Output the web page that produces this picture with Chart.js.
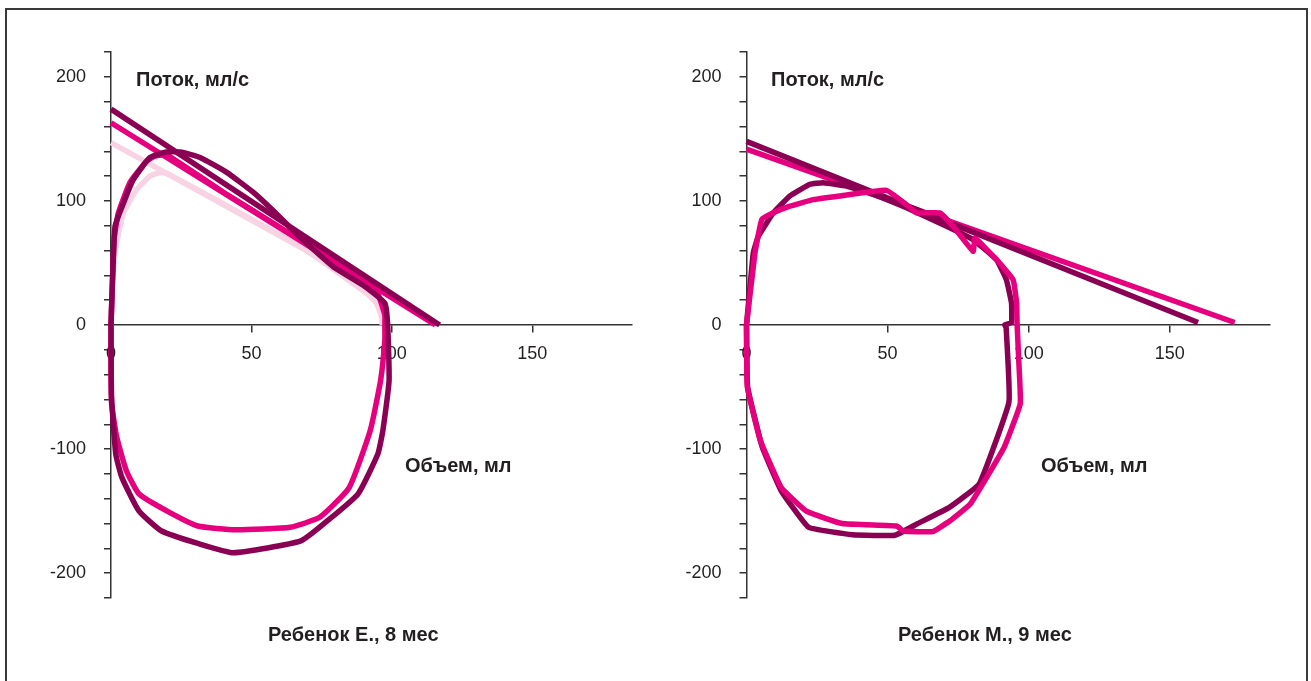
<!DOCTYPE html>
<html>
<head>
<meta charset="utf-8">
<script src="https://cdn.jsdelivr.net/npm/chart.js@4.4.1/dist/chart.umd.min.js"></script>
<style>
    body { margin: 0; background: #fff; font-family: "Liberation Sans", Arial, sans-serif; }
    #frame { position: absolute; left: 5px; top: 8px; width: 1299px; height: 700px; border: 2px solid #3a3a3a; border-bottom: none; }
    .wrap { position: absolute; top: 0; }
    canvas { display: block; }
    .lbl { position: absolute; font-weight: bold; font-size: 20px; line-height: 22px; color: #231f20; white-space: nowrap; }
</style>
</head>
<body>
<div id="frame"></div>
<div class="wrap" style="left:0"><canvas id="chartE" width="655" height="681"></canvas></div>
<div class="wrap" style="left:655px"><canvas id="chartM" width="656" height="681"></canvas></div>

<div class="lbl" style="left:136px;top:68px">Поток, мл/с</div>
<div class="lbl" style="left:405px;top:454px">Объем, мл</div>
<div class="lbl" style="left:268px;top:623px">Ребенок Е., 8 мес</div>
<div class="lbl" style="left:771px;top:68px">Поток, мл/с</div>
<div class="lbl" style="left:1041px;top:454px">Объем, мл</div>
<div class="lbl" style="left:898px;top:623px">Ребенок М., 9 мес</div>

<script>
// Ребенок Е., 8 мес — объем (мл) и поток (мл/с)
var eDarkLoopV = [0, 1.4, 4.4, 7.9, 13.9, 19.8, 24.6, 31.7, 41.2, 50.6, 57.8, 64.9, 72, 79.1, 89.8, 97.5, 98.5, 99, 96.8, 95, 88, 78, 67.6, 43.6, 30.9, 18, 10, 3.9, 1.7, 0.2, 0];
var eDarkLoopF = [0, 79, 98, 117, 135, 139.5, 139.5, 135, 123, 107, 92, 76, 61, 47, 32, 17.5, 0, -45, -85, -104, -136, -156, -174, -183.5, -176, -166, -150, -123, -104, -58, 0];
var eMagLoopV = [0, 1.1, 2.6, 6.8, 12.7, 15.7, 19.8, 40, 60, 80, 90, 95, 97.5, 97.5, 97.5, 96, 92.3, 84.8, 74.3, 63.8, 44.4, 30.9, 20, 9.9, 5.4, 2, 0.2, 0, 0];
var eMagLoopF = [0, 69, 90, 115, 132, 136, 137, 107, 79, 51, 36, 25, 8, 0, -12, -44.5, -85, -131, -155, -163, -165, -162, -150, -136, -117, -90, -63, -35, 0];
var ePinkLoopV = [0, 0.5, 1.5, 4.4, 9.1, 13.9, 17.4, 19.8, 67.3, 91, 94.5, 96.3, 96.6];
var ePinkLoopF = [0, 30, 60, 90, 109, 120, 122.8, 122.3, 63.4, 25.6, 17.5, 6.7, 0];
var eDarkLineV = [0, 117];
var eDarkLineF = [174, 0];
var eMagLineV = [0, 115.5];
var eMagLineF = [163, 0];
var ePinkLineV = [0, 97];
var ePinkLineF = [147, 25.7];

// Ребенок М., 9 мес
var mDarkLoopV = [0, 2.4, 4.2, 9.5, 15.4, 22.5, 27.2, 35.5, 44.9, 56.7, 70.9, 80.3, 88.6, 92.1, 93.9, 93.9, 91.5, 92, 93, 82.5, 71.9, 60.7, 52.6, 37.6, 22, 12.3, 5.6, 0.4, 0];
var mDarkLoopF = [0, 58, 71.5, 90.4, 104, 113.4, 114.7, 112, 105.3, 94.5, 79.6, 68.8, 52.6, 36.4, 17.8, 2, 0, -2, -62, -128, -147, -160, -169.5, -169, -163, -133.6, -98.5, -50, 0];
var mMagLoopV = [0, 3, 5.4, 9.5, 15.4, 23.7, 33, 49.6, 56.7, 60.3, 68.5, 73.2, 80.3, 81, 88.6, 94.5, 95.7, 95.9, 96.5, 97, 91.3, 79.4, 72, 66, 55.5, 53.3, 33.9, 21.2, 12.3, 4.9, 0.3, 0];
var mMagLoopF = [0, 58, 85, 90.4, 95.8, 101, 104, 108.5, 97, 90.4, 90.4, 79.6, 59.4, 70, 52.6, 36.4, 17.8, 0, -30, -63.4, -98.5, -144, -158, -166.5, -166, -162, -160, -150, -131, -93, -50, 0];
var mDarkLineV = [0, 160];
var mDarkLineF = [148, 2];
var mMagLineV = [0, 173];
var mMagLineF = [141.7, 2];

var xTicksStep = 50;
var yTicksStep = 20;

var DARK = '#8a0052';
var MAGENTA = '#e6007e';
var PINK = '#f7d3e3';

function pts(vs, fs) {
    return vs.map(function(v, i) { return { x: v, y: fs[i] }; });
}

function series(vs, fs, color, tension) {
    return {
        data: pts(vs, fs),
        showLine: true,
        borderColor: color,
        backgroundColor: color,
        borderWidth: 5.5,
        pointRadius: 0,
        tension: tension || 0,
        fill: false,
        clip: false
    };
}

var tickFont = { family: '"Liberation Sans", Arial, sans-serif', size: 18 };

function makeChart(id, axisLeft, padRight, datasets) {
    var ctx = document.getElementById(id).getContext('2d');
    return new Chart(ctx, {
        type: 'scatter',
        data: { datasets: datasets },
        options: {
            responsive: false,
            animation: false,
            layout: { padding: { left: 0, right: padRight, top: 52, bottom: 83 } },
            plugins: { legend: { display: false }, tooltip: { enabled: false } },
            scales: {
                x: {
                    type: 'linear', min: 0, max: 185.5,
                    position: { y: 0 },
                    ticks: {
                        stepSize: xTicksStep, includeBounds: false, autoSkip: false, maxRotation: 0,
                        color: '#231f20', font: tickFont, padding: 11
                    },
                    grid: { drawOnChartArea: false, tickLength: 7, color: '#333', lineWidth: 1.5 },
                    border: { color: '#333', width: 1.5 }
                },
                y: {
                    type: 'linear', min: -220, max: 220,
                    position: 'left',
                    afterFit: function(scale) { scale.width = axisLeft; },
                    ticks: {
                        stepSize: yTicksStep, autoSkip: false,
                        color: '#231f20', font: tickFont, padding: 18,
                        callback: function(value) {
                            return value % 100 === 0 ? value : '';
                        }
                    },
                    grid: { drawOnChartArea: false, tickLength: 7, color: '#333', lineWidth: 1.5 },
                    border: { color: '#333', width: 1.5 }
                }
            }
        }
    });
}

// первый набор рисуется поверх остальных
makeChart('chartE', 111, 23, [
    series(eDarkLineV, eDarkLineF, DARK),
    series(eDarkLoopV, eDarkLoopF, DARK, 0.15),
    series(eMagLineV, eMagLineF, MAGENTA),
    series(eMagLoopV, eMagLoopF, MAGENTA, 0.15),
    series(ePinkLineV, ePinkLineF, PINK),
    series(ePinkLoopV, ePinkLoopF, PINK, 0.15)
]);

makeChart('chartM', 91.5, 41, [
    series(mMagLoopV, mMagLoopF, MAGENTA, 0.1),
    series(mDarkLoopV, mDarkLoopF, DARK, 0.1),
    series(mDarkLineV, mDarkLineF, DARK),
    series(mMagLineV, mMagLineF, MAGENTA)
]);
</script>
</body>
</html>
